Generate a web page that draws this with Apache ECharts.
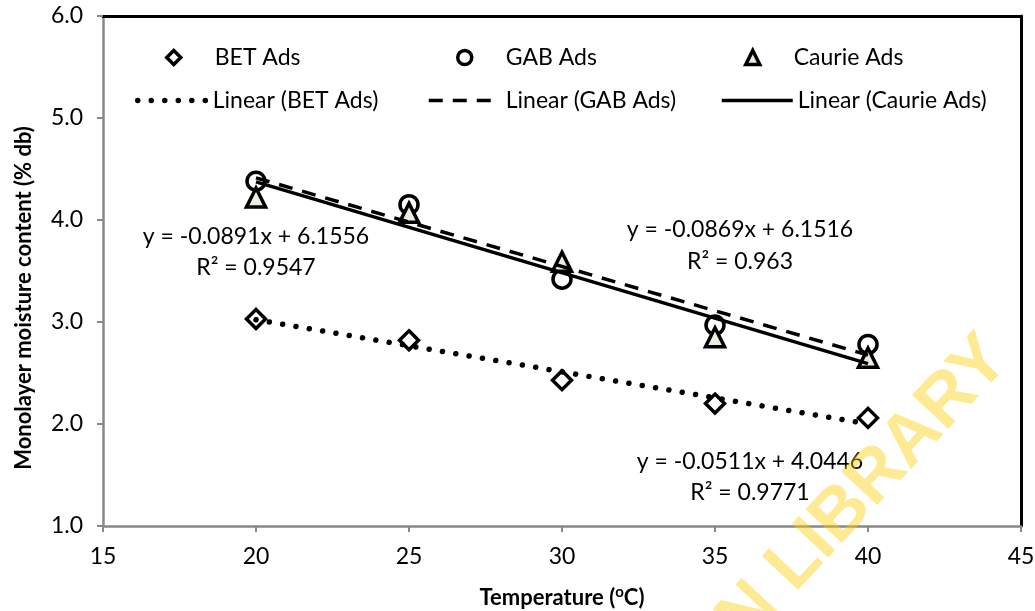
<!DOCTYPE html>
<html><head><meta charset="utf-8">
<script src="https://cdn.jsdelivr.net/npm/echarts/dist/echarts.min.js"></script>
<style>html,body{margin:0;padding:0;background:#fff}#c{width:1035px;height:611px}</style>
</head><body><div id="c"></div>
<script>
// ---- data ----
const temps = [20, 25, 30, 35, 40];
const betAds = [3.03, 2.82, 2.43, 2.20, 2.06];
const gabAds = [4.38, 4.15, 3.42, 2.97, 2.78];
const caurieAds = [4.22, 4.07, 3.59, 2.85, 2.65];
// trend line end points (from the displayed equations)
const trendX = [20, 40];
const betTrend = [3.0226, 2.0006];
const gabTrend = [4.4136, 2.6756];
const caurieTrend = [4.3736, 2.5916];
const xTicks = [15, 20, 25, 30, 35, 40, 45];
const yTicks = [1, 2, 3, 4, 5, 6];
const seriesNames = ['BET Ads', 'GAB Ads', 'Caurie Ads', 'Linear (BET Ads)', 'Linear (GAB Ads)', 'Linear (Caurie Ads)'];
const eqCaurie = ['y = -0.0891x + 6.1556', 'R² = 0.9547'];
const eqGab = ['y = -0.0869x + 6.1516', 'R² = 0.963'];
const eqBet = ['y = -0.0511x + 4.0446', 'R² = 0.9771'];

const FONT = 'Lato';
const FS = 23;
const pts = (xs, ys) => xs.map((x, i) => [x, ys[i]]);

const chart = echarts.init(document.getElementById('c'), null, {renderer: 'canvas'});

function legRow1(name, cx, cy) {
  return {
    data: [name], left: cx - 7, top: cy - 14, itemWidth: 14, itemHeight: 14, itemGap: 0, padding: 0,
    selectedMode: false,
    itemStyle: {borderWidth: 3.5},
    textStyle: {fontFamily: FONT, fontSize: FS, color: '#000', padding: [0, 0, 0, 29]}
  };
}
function legRow2(name, x0, w, cy, ls) {
  return {
    data: [name], left: x0, top: cy - 14, itemWidth: w, itemHeight: 14, itemGap: 0, padding: 0,
    selectedMode: false,
    itemStyle: {opacity: 0, color: 'transparent', borderWidth: 0},
    lineStyle: ls,
    textStyle: {fontFamily: FONT, fontSize: FS, color: '#000'}
  };
}

const dotStyle = {color: '#000', width: 5.5, type: [0.01, 13.5], cap: 'round'};
const dashStyle = {color: '#000', width: 3.5, type: [14, 10], cap: 'butt'};
const solidStyle = {color: '#000', width: 3.5, type: 'solid'};

const option = {
  backgroundColor: '#fff',
  animation: false,
  textStyle: {fontFamily: FONT},
  grid: {left: 103, right: 14, top: 16, bottom: 85, show: false, containLabel: false, outerBoundsMode: 'none'},
  legend: [
    legRow1(seriesNames[0], 172, 60),
    legRow1(seriesNames[1], 463, 60),
    legRow1(seriesNames[2], 751, 60),
    legRow2(seriesNames[3], 135, 70, 103, dotStyle),
    legRow2(seriesNames[4], 427, 72, 103, dashStyle),
    legRow2(seriesNames[5], 720, 71, 103, solidStyle)
  ],
  xAxis: [{
    type: 'value', min: xTicks[0], max: xTicks[xTicks.length - 1], interval: 5,
    axisLine: {show: true, onZero: false, lineStyle: {color: '#888', width: 2.5}},
    axisTick: {show: true, length: 6, lineStyle: {color: '#888', width: 2}},
    splitLine: {show: false},
    axisLabel: {fontFamily: FONT, fontSize: FS, color: '#000', margin: 19},
    name: '{a|Temperature (}{s|o}{a|C)}', nameLocation: 'middle', nameGap: 59,
    nameTextStyle: {rich: {
      a: {fontFamily: FONT, fontSize: 22, fontWeight: 'bold', color: '#000'},
      s: {fontFamily: FONT, fontSize: 15, fontWeight: 'bold', color: '#000', verticalAlign: 'top', padding: [0, 0, 10, 0]}
    }}
  }, {
    type: 'value', position: 'top', min: xTicks[0], max: xTicks[xTicks.length - 1],
    axisLine: {show: true, onZero: false, lineStyle: {color: '#000', width: 3}},
    axisTick: {show: false}, axisLabel: {show: false}, splitLine: {show: false}
  }],
  yAxis: [{
    type: 'value', min: yTicks[0], max: yTicks[yTicks.length - 1], interval: 1,
    axisLine: {show: true, onZero: false, lineStyle: {color: '#888', width: 2.5}},
    axisTick: {show: true, length: 6, lineStyle: {color: '#888', width: 2}},
    splitLine: {show: false},
    axisLabel: {fontFamily: FONT, fontSize: FS, color: '#000', margin: 20, formatter: v => v.toFixed(1)},
    name: 'Monolayer moisture content (% db)', nameLocation: 'middle', nameGap: 68,
    nameTextStyle: {fontFamily: FONT, fontSize: 22, fontWeight: 'bold', color: '#000', padding: [0, 54, 0, 0]}
  }, {
    type: 'value', position: 'right', min: yTicks[0], max: yTicks[yTicks.length - 1],
    axisLine: {show: true, onZero: false, lineStyle: {color: '#000', width: 3}},
    axisTick: {show: false}, axisLabel: {show: false}, splitLine: {show: false}
  }],
  series: [
    {type: 'scatter', z: 2, name: seriesNames[0], data: pts(temps, betAds), symbol: 'diamond', symbolSize: 19,
      itemStyle: {color: '#fff', borderColor: '#000', borderWidth: 3.5, opacity: 1}},
    {type: 'scatter', z: 2, name: seriesNames[1], data: pts(temps, gabAds), symbol: 'circle', symbolSize: 18,
      itemStyle: {color: '#fff', borderColor: '#000', borderWidth: 3.5, opacity: 1}},
    {type: 'scatter', z: 2, name: seriesNames[2], data: pts(temps, caurieAds), symbol: 'triangle', symbolSize: 19,
      itemStyle: {color: '#eeece1', borderColor: '#000', borderWidth: 3.5, opacity: 1}},
    {type: 'line', name: seriesNames[3], data: pts(trendX, betTrend), symbol: 'none', z: 3, silent: true,
      itemStyle: {color: '#000'}, lineStyle: dotStyle},
    {type: 'line', name: seriesNames[4], data: pts(trendX, gabTrend), symbol: 'none', z: 3, silent: true,
      itemStyle: {color: '#000'}, lineStyle: dashStyle},
    {type: 'line', name: seriesNames[5], data: pts(trendX, caurieTrend), symbol: 'none', z: 3, silent: true,
      itemStyle: {color: '#000'}, lineStyle: solidStyle}
  ]
};
chart.setOption(option);

function eqLabel(lines, cx, y1, y2) {
  return [
    {type: 'text', x: cx, y: y1, z: 10, style: {text: lines[0], fontFamily: FONT, fontSize: FS, fill: '#000', align: 'center', verticalAlign: 'middle'}},
    {type: 'text', x: cx, y: y2, z: 10, style: {text: lines[1], fontFamily: FONT, fontSize: FS, fill: '#000', align: 'center', verticalAlign: 'middle'}}
  ];
}
const gfx = [].concat(
  eqLabel(eqCaurie, 256, 237, 268),
  eqLabel(eqGab, 740, 230, 262),
  eqLabel(eqBet, 750, 462, 493),
  [{type: 'text', x: 864, y: 490, rotation: 47 * Math.PI / 180, z: 20, silent: true,
    style: {text: 'N LIBRARY', fontFamily: 'Liberation Sans', fontWeight: 'bold', fontSize: 72,
      fill: 'rgba(255,204,0,0.42)', align: 'center', verticalAlign: 'middle'}}]
);
chart.setOption({graphic: gfx});
</script>
</body></html>
